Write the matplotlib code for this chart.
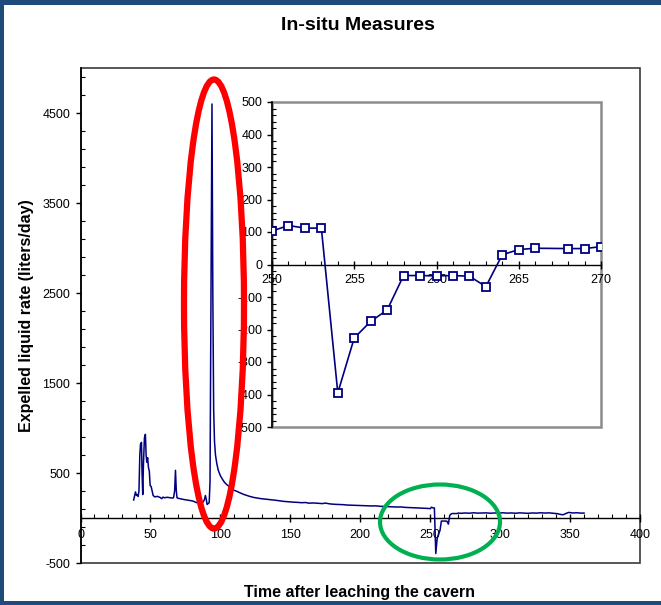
import matplotlib
matplotlib.use("Agg")
import matplotlib.pyplot as plt
from matplotlib.patches import Ellipse, Rectangle
from matplotlib.ticker import FixedLocator, MultipleLocator

plt.rcParams['font.family'] = ['Liberation Sans', 'DejaVu Sans']
plt.rcParams['axes.unicode_minus'] = False

# ---- data -----------------------------------------------------------------
# expelled liquid rate before the blow-down test (days, liters/day)
t_before = [38.0, 38.6, 39.3, 40.0, 40.6, 41.2, 41.8, 42.4, 42.9, 43.6, 44.0, 44.5,
            45.0, 45.7, 46.4, 46.9, 47.4, 48.0, 48.6, 49.2, 49.8, 50.5, 51.2, 51.9,
            53.0, 55.0, 57.0, 58.0, 59.0, 60.0, 62.0, 64.0, 65.5, 66.5, 67.3, 67.9,
            68.5, 69.0, 69.5, 71.0, 72.6, 74.0, 76.2, 78.0, 79.8, 81.0, 82.9, 84.0,
            84.8, 86.0, 87.5, 88.5, 89.3, 90.0, 90.5, 91.2, 92.0, 92.6, 93.3, 94.0,
            94.6, 95.2, 95.8, 96.5, 97.5, 98.5, 100.0, 101.5, 103.0, 105.0, 107.0,
            109.5, 112.0, 114.0, 116.7, 119.0, 121.0, 124.0, 126.2, 129.0, 132.0,
            135.7, 139.0, 142.0, 145.2, 149.0, 152.0, 154.8, 158.0, 161.0, 163.0,
            166.7, 170.0, 173.0, 175.0, 178.6, 182.0, 185.0, 188.0, 190.5, 194.0,
            197.0, 200.0, 202.4, 205.0, 208.0, 211.0, 214.3, 217.0, 220.0, 223.0,
            226.0, 229.0, 232.0, 235.0, 238.0, 241.0, 244.0, 247.6, 249.5]
q_before = [200, 240, 290, 250, 260, 240, 300, 700, 820, 840, 500, 260,
            600, 890, 930, 700, 620, 670, 560, 520, 360, 350, 300, 252,
            235, 240, 228, 215, 232, 225, 230, 226, 222, 225, 300, 530,
            300, 225, 220, 215, 210, 205, 200, 195, 190, 185, 170, 180,
            165, 170, 175, 200, 250, 200, 150, 160, 170, 400, 2500, 4600,
            2500, 1200, 850, 700, 600, 530, 470, 430, 395, 365, 340,
            310, 295, 280, 262, 250, 240, 228, 222, 215, 210,
            204, 198, 192, 185, 180, 176, 174, 170, 172, 165,
            167, 163, 160, 166, 156, 152, 150, 148, 144, 142,
            140, 138, 137, 136, 134, 135, 130, 128, 126, 124,
            122, 123, 118, 116, 115, 113, 110, 107, 105]

# daily readings around the blow-down (days 250-270)
t_zoom = [250, 251, 252, 253, 254, 255, 256, 257, 258, 259, 260, 261, 262, 263,
          264, 265, 266, 268, 269, 270]
q_zoom = [103, 120, 112, 112, -395, -226, -175, -140, -34, -34, -35, -34, -36, -68,
          30, 46, 50, 49, 49, 55]

# readings after the blow-down
t_after = [272, 275, 278, 281, 284, 287, 290, 293, 296, 299, 302, 305, 308, 311,
           314, 317, 320, 323, 326, 329, 332, 335, 338, 341, 343, 345, 347, 349,
           352, 355, 358, 360]
q_after = [52, 56, 53, 58, 54, 55, 57, 53, 56, 55, 58, 54, 56, 53,
           57, 55, 52, 56, 54, 58, 55, 57, 52, 48, 40, 36, 50, 62,
           56, 58, 54, 55]

t_all = t_before + t_zoom + t_after
q_all = q_before + q_zoom + q_after

main_yticks = [-500, 500, 1500, 2500, 3500, 4500]
main_xticks = [0, 50, 100, 150, 200, 250, 300, 350, 400]
zoom_xticks = [250, 255, 260, 265, 270]
zoom_yticks = [-500, -400, -300, -200, -100, 0, 100, 200, 300, 400, 500]

NAVY = '#000080'
W, H = 661, 605

fig = plt.figure(figsize=(W / 100, H / 100), dpi=100)
fig.patch.set_facecolor('white')


def frac(x0, y0, x1, y1):
    return [x0 / W, 1 - y1 / H, (x1 - x0) / W, (y1 - y0) / H]


# ---- main chart -------------------------------------------------------------
ax = fig.add_axes(frac(80.5, 68, 640, 563))
ax.plot(t_all, q_all, color=NAVY, lw=1.1, zorder=3)
ax.set_xlim(0, 400)
ax.set_ylim(-500, 5000)

ax.spines['bottom'].set_position(('data', 0))
ax.spines['top'].set_visible(False)
ax.spines['right'].set_visible(False)
ax.spines['left'].set_linewidth(1.2)
ax.spines['bottom'].set_linewidth(1.0)
ax.add_patch(Rectangle((0, 0), 1, 1, transform=ax.transAxes, fill=False,
                       edgecolor='#3a3a3a', lw=1.2, clip_on=False, zorder=1))

ax.xaxis.set_major_locator(FixedLocator(main_xticks))
ax.xaxis.set_minor_locator(MultipleLocator(10))
ax.yaxis.set_major_locator(FixedLocator(main_yticks))
ax.yaxis.set_minor_locator(MultipleLocator(200, offset=100))
ax.tick_params(axis='x', which='major', direction='inout', length=6, width=1,
               pad=5, labelsize=9)
ax.tick_params(axis='x', which='minor', direction='in', length=3, width=0.8)
ax.tick_params(axis='y', which='major', direction='out', length=3.5, width=1,
               pad=4, labelsize=9)
ax.tick_params(axis='y', which='minor', direction='in', length=3, width=0.8)

fig.text(358 / W, 1 - 25 / H, 'In-situ Measures', ha='center', va='center',
         fontsize=14, fontweight='bold')
fig.text(360 / W, 1 - 592 / H, 'Time after leaching the cavern', ha='center',
         va='center', fontsize=11.5, fontweight='bold')
fig.text(27 / W, 1 - 316 / H, 'Expelled liquid rate (liters/day)', ha='center',
         va='center', rotation=90, fontsize=11.5, fontweight='bold')

# ---- close-up of the blow-down ---------------------------------------------
axi = fig.add_axes(frac(272, 102, 601, 427))
axi.set_facecolor('white')
axi.plot(t_zoom, q_zoom, color=NAVY, lw=1.2, marker='s', markersize=5.8,
         markerfacecolor='white', markeredgecolor=NAVY, markeredgewidth=1.3,
         zorder=3)
axi.set_xlim(250, 270)
axi.set_ylim(-500, 500)
axi.spines['bottom'].set_position(('data', 0))
axi.spines['top'].set_visible(False)
axi.spines['right'].set_visible(False)
axi.spines['left'].set_linewidth(1.2)
axi.spines['bottom'].set_linewidth(1.0)
axi.add_patch(Rectangle((0, 0), 1, 1, transform=axi.transAxes, fill=False,
                        edgecolor='#8c8c8c', lw=1.8, clip_on=False, zorder=1))
axi.xaxis.set_major_locator(FixedLocator(zoom_xticks))
axi.xaxis.set_minor_locator(MultipleLocator(1))
axi.yaxis.set_major_locator(FixedLocator(zoom_yticks))
axi.yaxis.set_minor_locator(MultipleLocator(20))
axi.tick_params(axis='x', which='major', direction='inout', length=6, width=1,
                pad=4, labelsize=9)
axi.tick_params(axis='x', which='minor', direction='in', length=3, width=0.8)
axi.tick_params(axis='y', which='major', direction='out', length=3.5, width=1,
                pad=3.5, labelsize=9)
axi.tick_params(axis='y', which='minor', direction='in', length=3, width=0.8)

# ---- highlight ellipses and slide border -----------------------------------
ov = fig.add_axes([0, 0, 1, 1], facecolor='none')
ov.set_xlim(0, W)
ov.set_ylim(H, 0)
ov.axis('off')
ov.add_patch(Ellipse((214, 304), 60, 449, fill=False, edgecolor='#ff0000',
                     lw=4.5))
ov.add_patch(Ellipse((440, 522), 120, 75, fill=False, edgecolor='#00b050',
                     lw=3.0))
border = '#1f4a7c'
ov.add_patch(Rectangle((0, 0), 4, H, color=border, lw=0))
ov.add_patch(Rectangle((0, 0), W, 5, color=border, lw=0))
ov.add_patch(Rectangle((0, H - 4), W, 4, color=border, lw=0))

fig.savefig('out.png', dpi=100)
